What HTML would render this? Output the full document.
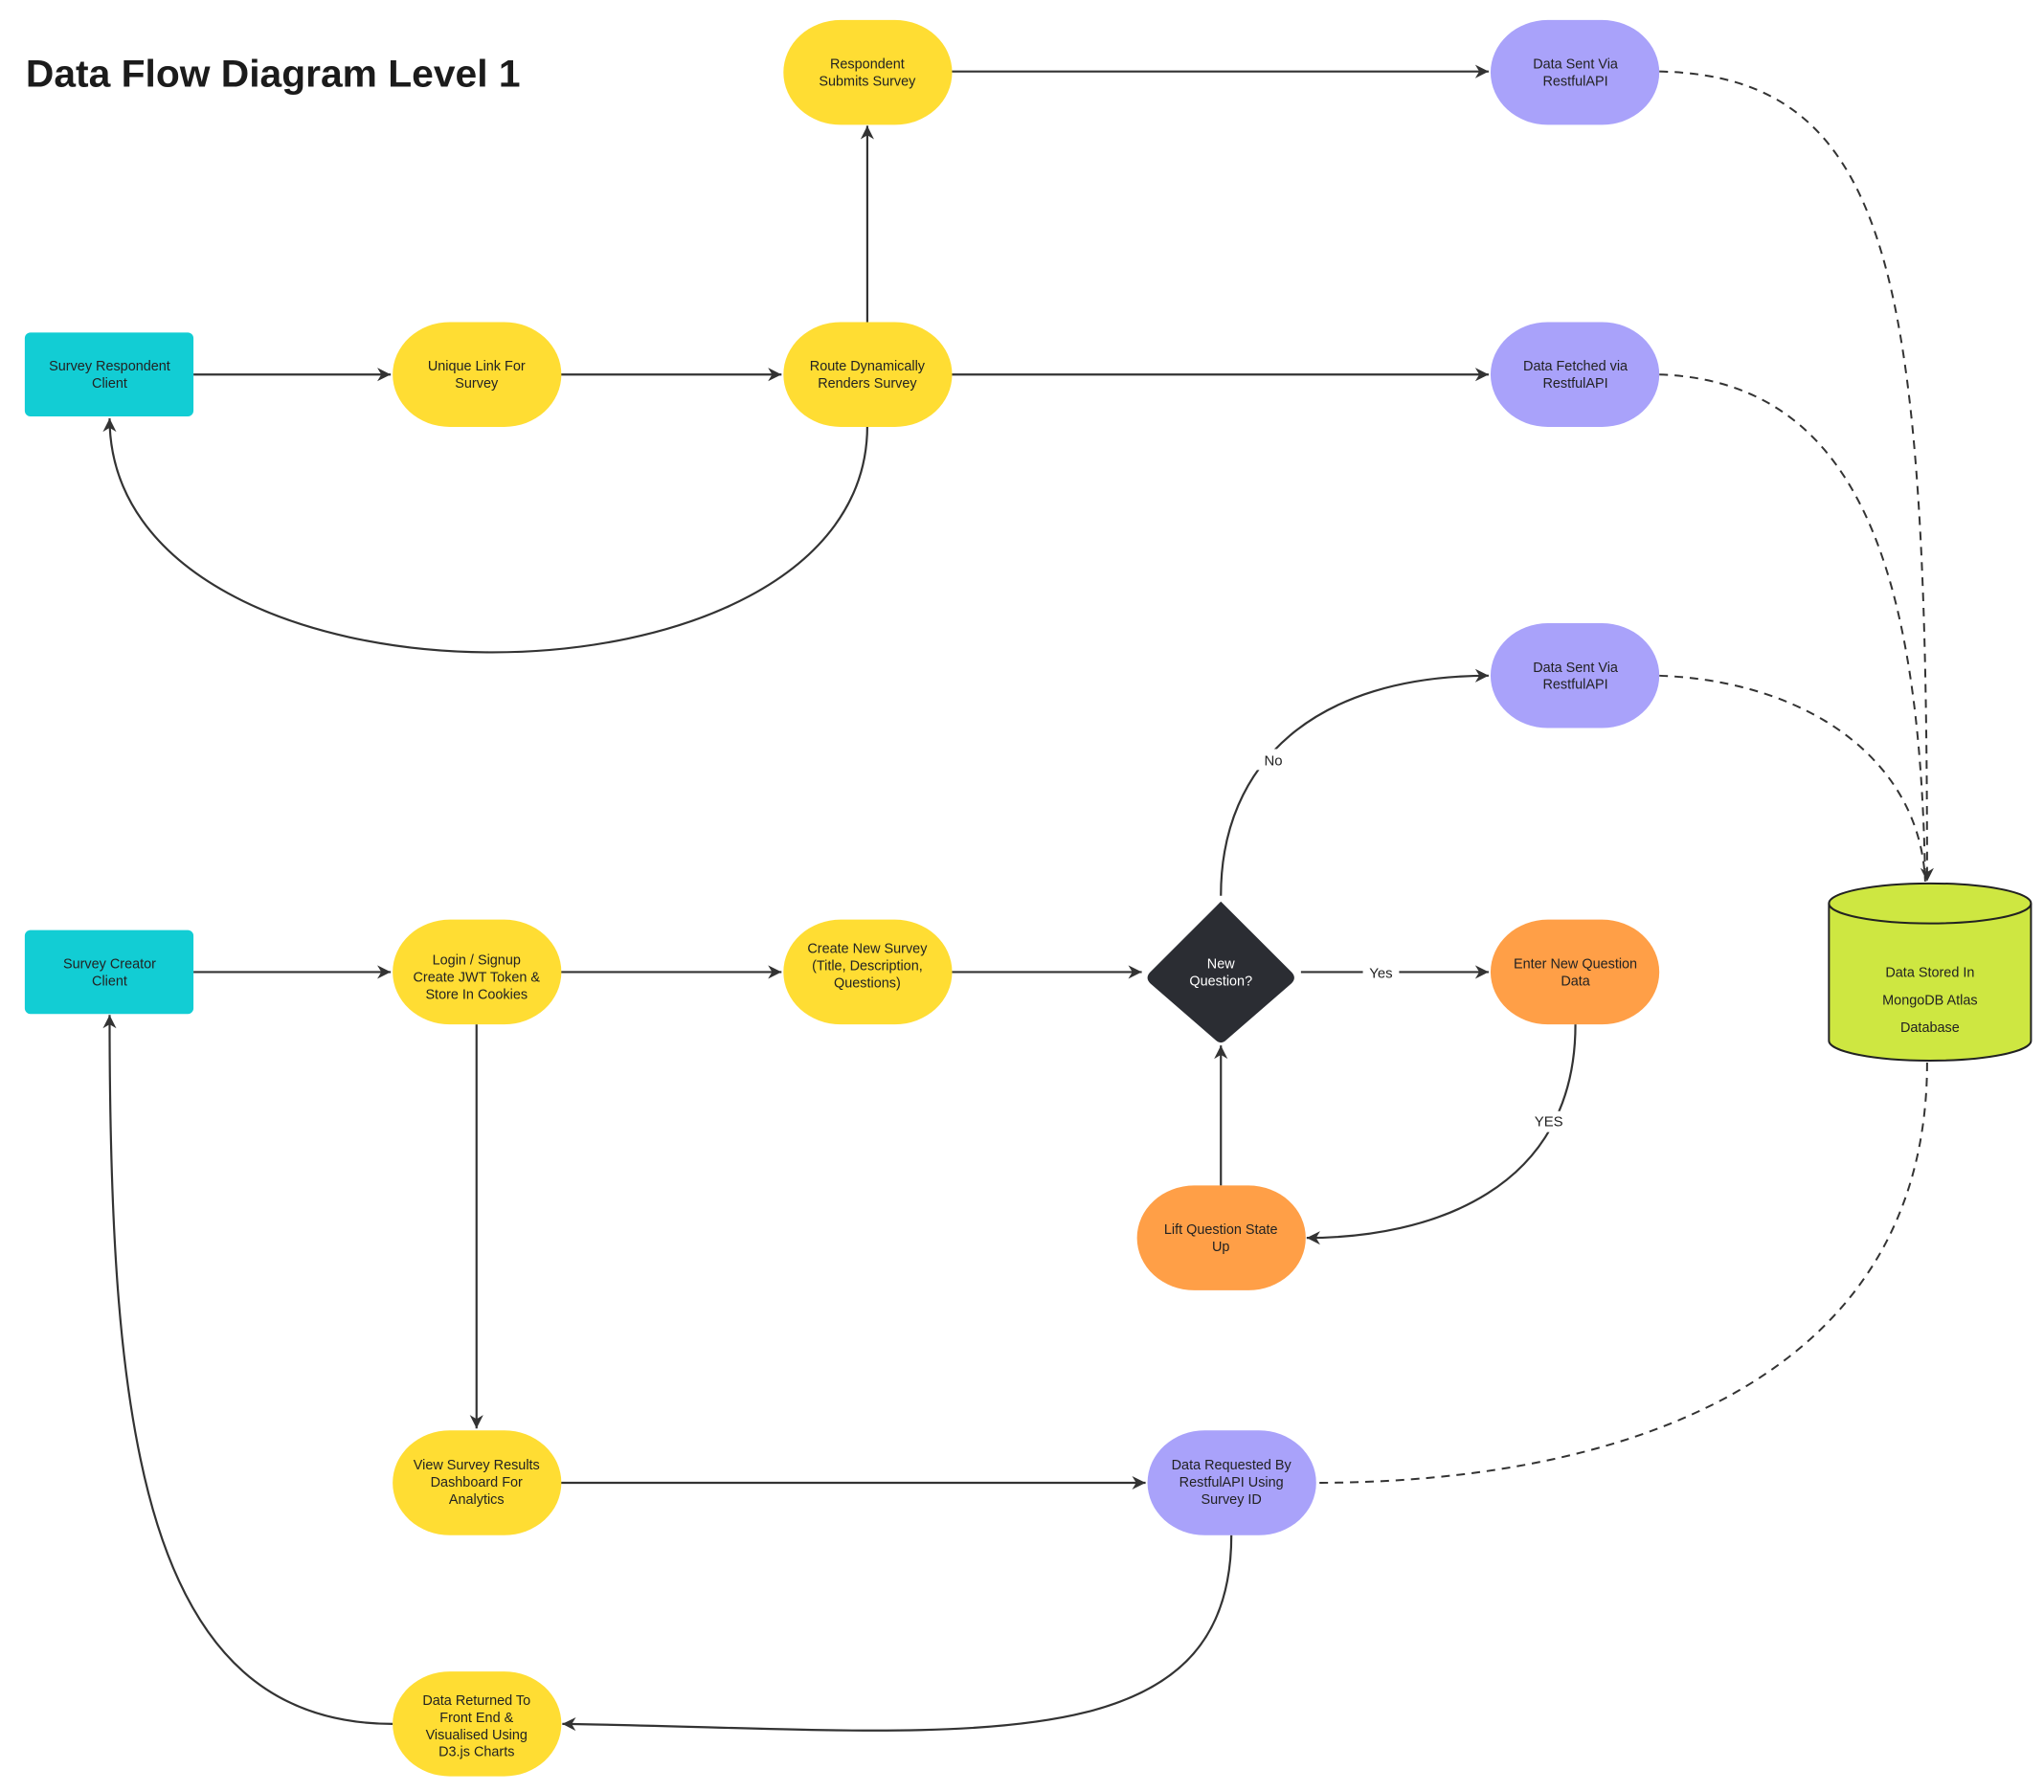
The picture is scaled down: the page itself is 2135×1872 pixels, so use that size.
<!DOCTYPE html>
<html><head><meta charset="utf-8"><style>
html,body{margin:0;padding:0;background:#fff;}
svg{display:block;}
text{font-family:"Liberation Sans",sans-serif;fill:#222;}
.n{font-size:14.5px;text-anchor:middle;}
.e{stroke:#333;stroke-width:2.2;fill:none;}
.d{stroke:#333;stroke-width:2;fill:none;stroke-dasharray:9 7;}
</style></head><body>
<svg width="2135" height="1872" viewBox="0 0 2135 1872" xmlns="http://www.w3.org/2000/svg">
<defs>
<marker id="a" viewBox="0 0 12 12" refX="11" refY="6" markerWidth="17" markerHeight="17" markerUnits="userSpaceOnUse" orient="auto"><path d="M1,1 L11,6 L1,11 L4,6 Z" fill="#333"/></marker>
</defs>
<g transform="scale(0.9955)">
<text x="27" y="91" font-size="40" font-weight="bold" textLength="519" lengthAdjust="spacingAndGlyphs" style="fill:#1b1b1b">Data Flow Diagram Level 1</text>

<path class="e" d="M998,75 L1562,75" marker-end="url(#a)"/>
<path class="e" d="M910,338 L910,132" marker-end="url(#a)"/>
<path class="e" d="M203,393 L410,393" marker-end="url(#a)"/>
<path class="e" d="M588,393 L820,393" marker-end="url(#a)"/>
<path class="e" d="M998,393 L1562,393" marker-end="url(#a)"/>
<path class="e" d="M910,447 C910,765 115,765 115,439" marker-end="url(#a)"/>
<path class="d" d="M1741,75 C1990,80 2022,300 2022,925" marker-end="url(#a)"/>
<path class="d" d="M1741,393 C1950,400 2015,600 2020,925"/>
<path class="d" d="M1741,709 C1900,715 2015,800 2020,925"/>
<path class="d" d="M2022,1115 C2022,1450 1700,1556 1380,1556"/>
<path class="e" d="M203,1020 L410,1020" marker-end="url(#a)"/>
<path class="e" d="M588,1020 L820,1020" marker-end="url(#a)"/>
<path class="e" d="M998,1020 L1198,1020" marker-end="url(#a)"/>
<path class="e" d="M1281,940 C1281,800 1380,709 1562,709" marker-end="url(#a)"/>
<path class="e" d="M1365,1020 L1562,1020" marker-end="url(#a)"/>
<path class="e" d="M1653,1075 C1653,1250 1500,1299 1371,1299" marker-end="url(#a)"/>
<path class="e" d="M1281,1244 L1281,1097" marker-end="url(#a)"/>
<path class="e" d="M500,1075 L500,1499" marker-end="url(#a)"/>
<path class="e" d="M588,1556 L1202,1556" marker-end="url(#a)"/>
<path class="e" d="M1292,1611 C1292,1860 1000,1815 590,1809" marker-end="url(#a)"/>
<path class="e" d="M412,1809 C150,1809 115,1500 115,1065" marker-end="url(#a)"/>

<rect x="1318" y="786" width="36" height="22" fill="#fff"/><text x="1336" y="803" font-size="15" text-anchor="middle">No</text>
<rect x="1430" y="1010" width="38" height="22" fill="#fff"/><text x="1449" y="1026" font-size="15" text-anchor="middle">Yes</text>
<rect x="1605" y="1166" width="40" height="22" fill="#fff"/><text x="1625" y="1182" font-size="15" text-anchor="middle">YES</text>

<rect x="822" y="21" width="177" height="110" rx="60" ry="55" fill="#FFDD33"/>
<text class="n" x="910" y="72">Respondent</text><text class="n" x="910" y="90">Submits Survey</text>
<rect x="1564" y="21" width="177" height="110" rx="60" ry="55" fill="#A9A2FA"/>
<text class="n" x="1653" y="72">Data Sent Via</text><text class="n" x="1653" y="90">RestfulAPI</text>

<rect x="26" y="349" width="177" height="88" rx="6" fill="#12CDD4"/>
<text class="n" x="115" y="389">Survey Respondent</text><text class="n" x="115" y="407">Client</text>
<rect x="412" y="338" width="177" height="110" rx="60" ry="55" fill="#FFDD33"/>
<text class="n" x="500" y="389">Unique Link For</text><text class="n" x="500" y="407">Survey</text>
<rect x="822" y="338" width="177" height="110" rx="60" ry="55" fill="#FFDD33"/>
<text class="n" x="910" y="389">Route Dynamically</text><text class="n" x="910" y="407">Renders Survey</text>
<rect x="1564" y="338" width="177" height="110" rx="60" ry="55" fill="#A9A2FA"/>
<text class="n" x="1653" y="389">Data Fetched via</text><text class="n" x="1653" y="407">RestfulAPI</text>

<rect x="1564" y="654" width="177" height="110" rx="60" ry="55" fill="#A9A2FA"/>
<text class="n" x="1653" y="705">Data Sent Via</text><text class="n" x="1653" y="723">RestfulAPI</text>

<path d="M1919,948 L1919,1092 A106,21 0 0 0 2131,1092 L2131,948 A106,21 0 0 0 1919,948 Z" fill="#CEE741" stroke="#222" stroke-width="2"/>
<path d="M1919,948 A106,21 0 0 0 2131,948" fill="none" stroke="#222" stroke-width="2"/>
<text class="n" x="2025" y="1025" font-size="15.5">Data Stored In</text>
<text class="n" x="2025" y="1054" font-size="15.5">MongoDB Atlas</text>
<text class="n" x="2025" y="1083" font-size="15.5">Database</text>

<rect x="26" y="976" width="177" height="88" rx="6" fill="#12CDD4"/>
<text class="n" x="115" y="1016">Survey Creator</text><text class="n" x="115" y="1034">Client</text>
<rect x="412" y="965" width="177" height="110" rx="60" ry="55" fill="#FFDD33"/>
<text class="n" x="500" y="1012">Login / Signup</text><text class="n" x="500" y="1030">Create JWT Token &amp;</text><text class="n" x="500" y="1048">Store In Cookies</text>
<rect x="822" y="965" width="177" height="110" rx="60" ry="55" fill="#FFDD33"/>
<text class="n" x="910" y="1000">Create New Survey</text><text class="n" x="910" y="1018">(Title, Description,</text><text class="n" x="910" y="1036">Questions)</text>
<path d="M1281,946 L1355,1020 Q1361,1026 1355,1032 L1287,1091 Q1281,1097 1275,1091 L1207,1032 Q1201,1026 1207,1020 L1275,952 Q1281,946 1281,946 Z" fill="#2B2D33"/>
<text class="n" x="1281" y="1016" style="fill:#fff">New</text><text class="n" x="1281" y="1034" style="fill:#fff">Question?</text>
<rect x="1564" y="965" width="177" height="110" rx="60" ry="55" fill="#FF9F47"/>
<text class="n" x="1653" y="1016">Enter New Question</text><text class="n" x="1653" y="1034">Data</text>
<rect x="1193" y="1244" width="177" height="110" rx="60" ry="55" fill="#FF9F47"/>
<text class="n" x="1281" y="1295">Lift Question State</text><text class="n" x="1281" y="1313">Up</text>

<rect x="412" y="1501" width="177" height="110" rx="60" ry="55" fill="#FFDD33"/>
<text class="n" x="500" y="1542">View Survey Results</text><text class="n" x="500" y="1560">Dashboard For</text><text class="n" x="500" y="1578">Analytics</text>
<rect x="1204" y="1501" width="177" height="110" rx="60" ry="55" fill="#A9A2FA"/>
<text class="n" x="1292" y="1542">Data Requested By</text><text class="n" x="1292" y="1560">RestfulAPI Using</text><text class="n" x="1292" y="1578">Survey ID</text>
<rect x="412" y="1754" width="177" height="110" rx="60" ry="55" fill="#FFDD33"/>
<text class="n" x="500" y="1789">Data Returned To</text><text class="n" x="500" y="1807">Front End &amp;</text><text class="n" x="500" y="1825">Visualised Using</text><text class="n" x="500" y="1843">D3.js Charts</text>
</g>
</svg>
</body></html>
